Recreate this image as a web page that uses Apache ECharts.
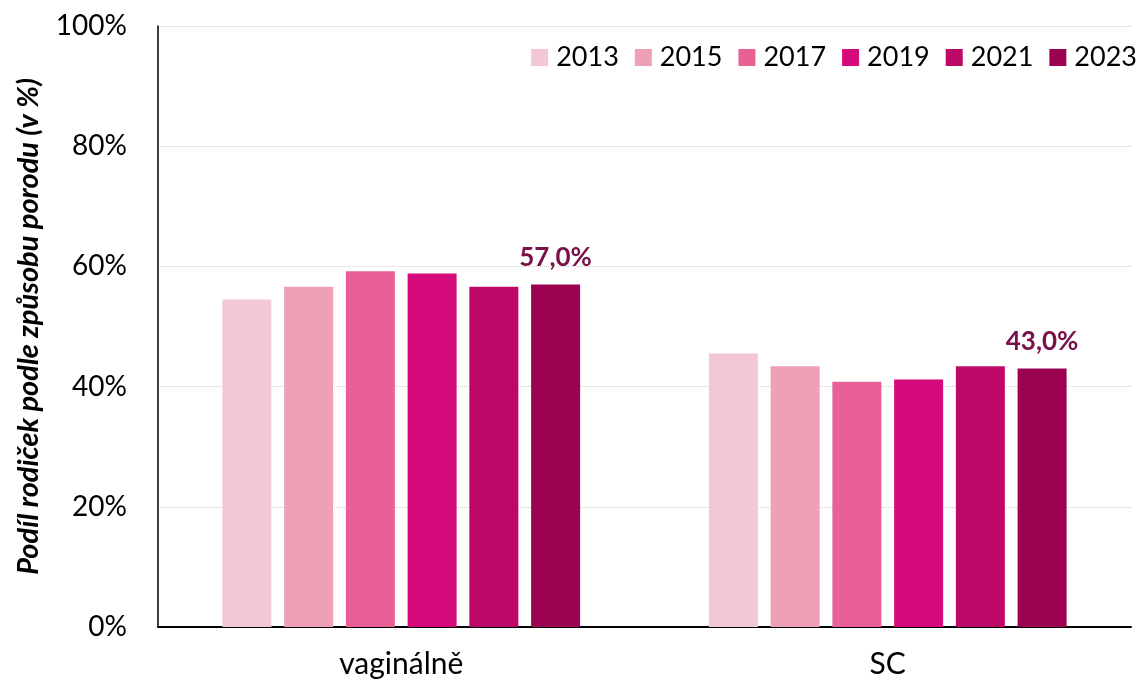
<!DOCTYPE html>
<html>
<head>
<meta charset="utf-8">
<script src="https://cdn.jsdelivr.net/npm/echarts@6/dist/echarts.min.js"></script>
<style>
  html, body { margin: 0; padding: 0; background: #fff; }
  #chart { width: 1145px; height: 683px; }
</style>
</head>
<body>
<div id="chart"></div>
<script>
// kategorie a hodnoty (v %)
const categories = ['vaginálně', 'SC']
const years = ['2013', '2015', '2017', '2019', '2021', '2023']
const values2013 = [54.5, 45.5]
const values2015 = [56.6, 43.4]
const values2017 = [59.2, 40.8]
const values2019 = [58.8, 41.2]
const values2021 = [56.6, 43.4]
const values2023 = [57.0, 43.0]
const yTicks = [0, 20, 40, 60, 80, 100]

const colors = ['#F4C7D4', '#EEA0B7', '#E86096', '#D60A7A', '#BE0867', '#9B0350']
const allValues = [values2013, values2015, values2017, values2019, values2021, values2023]

const chart = echarts.init(document.getElementById('chart'))
const font = 'Lato, "Open Sans", sans-serif'

const series = years.map((y, i) => ({
  name: y,
  type: 'bar',
  data: allValues[i],
  barWidth: 49,
  barGap: '26%',
  itemStyle: { color: colors[i] },
  label: i === years.length - 1 ? {
    show: true,
    position: 'top',
    distance: 14,
    color: '#7A1048',
    fontFamily: font,
    fontWeight: 'bold',
    fontSize: 26,
    formatter: (p) => p.value.toFixed(1).replace('.', ',') + '%'
  } : { show: false }
}))

chart.setOption({
  animation: false,
  textStyle: { fontFamily: font },
  legend: {
    data: years,
    right: 3,
    top: 39,
    itemWidth: 17,
    itemHeight: 17,
    itemGap: 16,
    icon: 'rect',
    textStyle: { fontSize: 27, color: '#000', fontFamily: font, padding: [0, 0, 0, 3] }
  },
  grid: { left: 158, right: 14, top: 26, bottom: 56 },
  xAxis: {
    type: 'category',
    data: categories,
    axisLine: { lineStyle: { color: '#000', width: 2 } },
    axisTick: { show: false },
    axisLabel: { fontSize: 30, color: '#000', margin: 22, fontFamily: font }
  },
  yAxis: {
    type: 'value',
    min: 0,
    max: 100,
    interval: 20,
    name: 'Podíl rodiček podle způsobu porodu (v %)',
    nameLocation: 'middle',
    nameGap: 115,
    nameTextStyle: { fontSize: 29, fontWeight: 'bold', fontStyle: 'italic', color: '#000', fontFamily: font },
    axisLine: { show: true, lineStyle: { color: '#000', width: 1.5 } },
    axisTick: { show: false },
    axisLabel: {
      fontSize: 28,
      color: '#000',
      margin: 31,
      fontFamily: font,
      formatter: (v) => yTicks.includes(v) ? v + '%' : ''
    },
    splitLine: { lineStyle: { color: '#cfcfcf', type: 'dotted', width: 1 } }
  },
  series: series
})
</script>
</body>
</html>
